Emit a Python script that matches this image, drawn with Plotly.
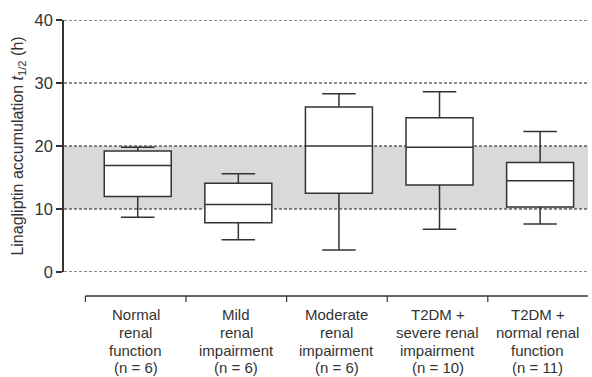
import plotly.graph_objects as go

# Group labels and box-plot statistics (accumulation half-life, hours)
groups = [
    ["Normal", "renal", "function", "(n = 6)"],
    ["Mild", "renal", "impairment", "(n = 6)"],
    ["Moderate", "renal", "impairment", "(n = 6)"],
    ["T2DM +", "severe renal", "impairment", "(n = 10)"],
    ["T2DM +", "normal renal", "function", "(n = 11)"],
]
lower_whisker = [8.7, 5.1, 3.5, 6.8, 7.6]
q1 = [12.0, 7.8, 12.5, 13.8, 10.3]
median = [16.9, 10.7, 20.0, 19.8, 14.5]
q3 = [19.2, 14.1, 26.2, 24.5, 17.4]
upper_whisker = [19.8, 15.6, 28.3, 28.6, 22.3]
y_ticks = [0, 10, 20, 30, 40]
reference_band = [10, 20]

FONT = "Liberation Sans, Arial, Helvetica, sans-serif"
INK = "#333333"
X_MIN, X_MAX = -0.733, 4.476
PLOT_H = 252  # plot-area height in px

positions = list(range(len(groups)))

fig = go.Figure()
fig.add_trace(go.Box(
    x=positions,
    q1=q1, median=median, q3=q3,
    lowerfence=lower_whisker, upperfence=upper_whisker,
    width=0.666, whiskerwidth=0.5,
    fillcolor="white",
    line=dict(color=INK, width=1.5),
    boxpoints=False, showlegend=False, hoverinfo="skip",
))

def px(x):
    return (x - X_MIN) / (X_MAX - X_MIN)

shapes = [
    # grey reference band
    dict(type="rect", xref="paper", yref="y", x0=0, x1=1,
         y0=reference_band[0], y1=reference_band[1],
         fillcolor="#d9d9db", line=dict(width=0), layer="below"),
]
for t in y_ticks:
    shapes.append(dict(type="line", xref="paper", yref="y", x0=0, x1=1, y0=t, y1=t,
                       line=dict(color="#1a1a1a", width=1.2, dash="3px,2px"), layer="below"))

# category bracket below the plot
bounds = [i - 0.52 for i in positions] + [X_MAX]
y_line = -24 / PLOT_H
y_tick = -30 / PLOT_H
shapes.append(dict(type="line", xref="paper", yref="paper",
                   x0=px(bounds[0]), x1=px(bounds[-1]), y0=y_line, y1=y_line,
                   line=dict(color=INK, width=1.5)))
for b in bounds[:-1]:
    shapes.append(dict(type="line", xref="paper", yref="paper",
                       x0=px(b), x1=px(b), y0=y_line, y1=y_tick,
                       line=dict(color=INK, width=1.2)))

annotations = []
for i, lines in enumerate(groups):
    cx = (bounds[i] + bounds[i + 1]) / 2
    for k, line in enumerate(lines):
        yc = -(42.5 + 17.8 * k) / PLOT_H
        annotations.append(dict(x=cx, xref="x", y=yc, yref="paper",
                                text=line, showarrow=False,
                                xanchor="center", yanchor="middle",
                                font=dict(family=FONT, size=15, color=INK)))

fig.update_layout(
    width=592, height=377,
    margin=dict(l=64, r=4, t=20, b=105),
    paper_bgcolor="white", plot_bgcolor="rgba(0,0,0,0)",
    shapes=shapes, annotations=annotations,
    xaxis=dict(range=[X_MIN, X_MAX], showgrid=False, zeroline=False,
               showticklabels=False, showline=False, ticks=""),
    yaxis=dict(range=[0, 40], tickvals=y_ticks, showgrid=False, zeroline=False,
               showline=True, linecolor=INK, linewidth=1.5,
               ticks="outside", ticklen=6, tickwidth=1.5, tickcolor=INK,
               tickfont=dict(family=FONT, size=16.5, color=INK),
               title=dict(text="Linagliptin accumulation <i>t</i><sub>1/2</sub> (h)",
                          font=dict(family=FONT, size=16, color=INK), standoff=7)),
    font=dict(family=FONT, color=INK),
)

fig.write_html("out.html")
